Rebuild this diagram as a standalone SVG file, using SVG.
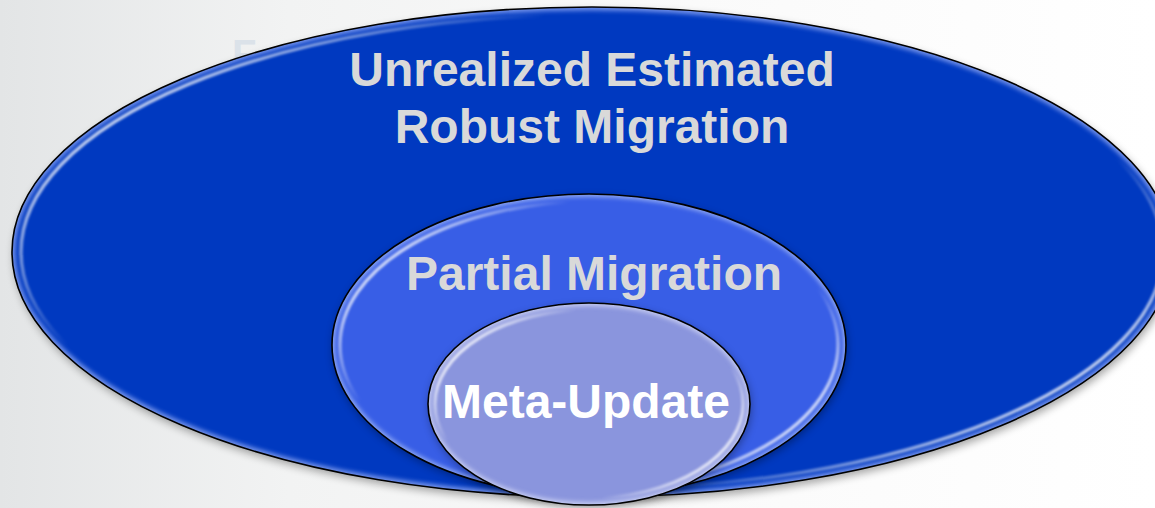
<svg xmlns="http://www.w3.org/2000/svg" width="1155" height="508" viewBox="0 0 1155 508">
<defs>
<linearGradient id="bg" x1="0" y1="0" x2="1" y2="0">
<stop offset="0" stop-color="#e3e5e6"/>
<stop offset="0.25" stop-color="#f2f3f3"/>
<stop offset="0.6" stop-color="#fafafa"/>
<stop offset="1" stop-color="#ffffff"/>
</linearGradient>
<linearGradient id="hl" x1="0" y1="0.2" x2="1" y2="0.8">
<stop offset="0" stop-color="#ffffff" stop-opacity="1"/>
<stop offset="0.25" stop-color="#ffffff" stop-opacity="0"/>
<stop offset="0.75" stop-color="#ffffff" stop-opacity="0"/>
<stop offset="1" stop-color="#ffffff" stop-opacity="1"/>
</linearGradient>
<filter id="blur1" x="-5%" y="-5%" width="110%" height="110%"><feGaussianBlur stdDeviation="1"/></filter>
<filter id="blur2" x="-5%" y="-5%" width="110%" height="110%"><feGaussianBlur stdDeviation="2"/></filter>
<filter id="shadow" x="-10%" y="-10%" width="120%" height="130%"><feGaussianBlur stdDeviation="4"/></filter>
<clipPath id="c1"><ellipse cx="592" cy="252" rx="580" ry="245"/></clipPath>
<clipPath id="c2"><ellipse cx="589" cy="345" rx="257" ry="151"/></clipPath>
<clipPath id="c3"><ellipse cx="589" cy="404" rx="161" ry="101"/></clipPath>
<style>
.lbl{font-family:"Liberation Sans",Arial,sans-serif;font-weight:bold;font-size:48px;text-anchor:middle}
.gray{fill:#d9d9d9}
.white{fill:#ffffff}
.edge{fill:none;stroke:#000000;stroke-width:1.6}
.shd{fill:#000000;opacity:0.35}
.hl{fill:none;stroke:url(#hl);stroke-width:3.5}
</style>
</defs>
<rect x="0" y="0" width="1155" height="508" fill="url(#bg)"/>
<text x="232" y="68" style="font-family:'Liberation Sans',Arial,sans-serif;font-weight:bold;font-size:40px;fill:#dbe2e9">F</text>

<g id="node-outer">
<ellipse class="shd" cx="594" cy="256" rx="580" ry="245" filter="url(#shadow)"/>
<ellipse cx="592" cy="252" rx="580" ry="245" fill="#0039c0"/>
<g clip-path="url(#c1)">
<ellipse cx="592" cy="252" rx="580" ry="245" fill="none" stroke="#6f8fe8" stroke-width="7" filter="url(#blur2)"/>
<ellipse class="hl" cx="592" cy="252" rx="571" ry="237" filter="url(#blur1)"/>
</g>
<ellipse class="edge" cx="592" cy="252" rx="580" ry="245"/>
<text class="lbl gray" x="592" y="86">Unrealized Estimated</text>
<text class="lbl gray" x="592" y="143">Robust Migration</text>
</g>

<g id="node-middle">
<ellipse class="shd" cx="590" cy="348" rx="257" ry="151" filter="url(#shadow)"/>
<ellipse cx="589" cy="345" rx="257" ry="151" fill="#385ee6"/>
<g clip-path="url(#c2)">
<ellipse cx="589" cy="345" rx="257" ry="151" fill="none" stroke="#8aa4f2" stroke-width="6" filter="url(#blur2)"/>
<ellipse class="hl" cx="589" cy="345" rx="249" ry="143" filter="url(#blur1)"/>
</g>
<ellipse class="edge" cx="589" cy="345" rx="257" ry="151"/>
<text class="lbl gray" x="594" y="290">Partial Migration</text>
</g>

<g id="node-inner">
<ellipse class="shd" cx="590" cy="407" rx="161" ry="101" filter="url(#shadow)"/>
<ellipse cx="589" cy="404" rx="161" ry="101" fill="#8a95dd"/>
<g clip-path="url(#c3)">
<ellipse cx="589" cy="404" rx="161" ry="101" fill="none" stroke="#c3c9f0" stroke-width="6" filter="url(#blur2)"/>
<ellipse class="hl" cx="589" cy="404" rx="154" ry="94" filter="url(#blur1)"/>
</g>
<ellipse class="edge" cx="589" cy="404" rx="161" ry="101"/>
<text class="lbl white" x="586" y="418">Meta-Update</text>
</g>

<g id="connectors"/>
</svg>
